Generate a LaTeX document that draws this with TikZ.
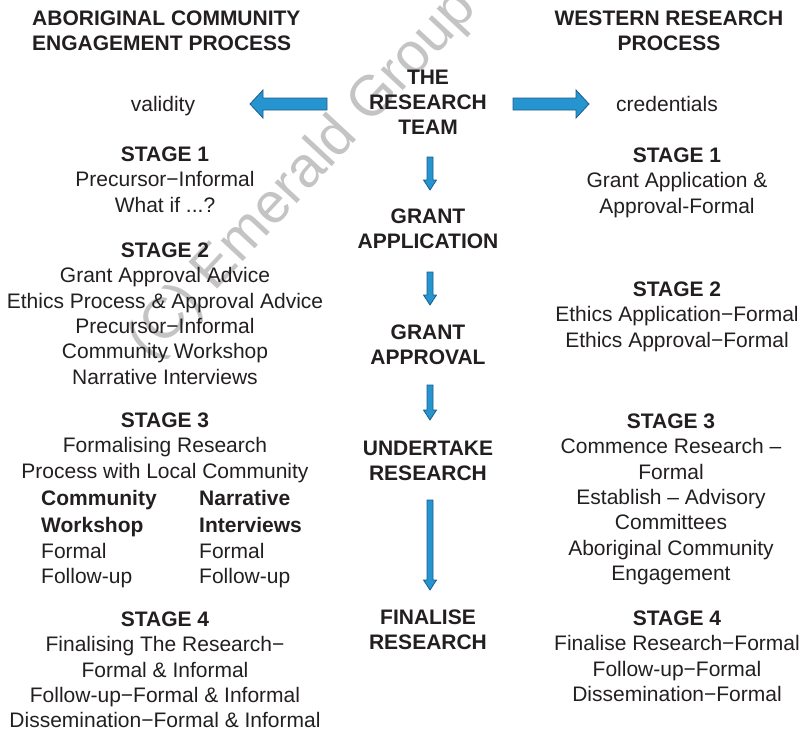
\documentclass[tikz,border=0pt]{standalone}
\usepackage{fontspec}
\setmainfont{Liberation Sans}
\usetikzlibrary{calc}
\definecolor{arrowfill}{HTML}{2694CE}
\definecolor{arrowedge}{HTML}{1B5E8C}
\definecolor{txt}{HTML}{231F20}
\definecolor{wmark}{HTML}{C4C4C4}
\newcommand\vblockarrow[2]{\draw[blockarrow] let \p1=(#1),\p2=(#2) in
  (\x1-3pt,\y1) -- (\x1+3pt,\y1) -- (\x1+3pt,\y2+10pt) -- (\x1+6.5pt,\y2+10pt) -- (\x1,\y2)
  -- (\x1-6.5pt,\y2+10pt) -- (\x1-3pt,\y2+10pt) -- cycle;}
\newcommand\hblockarrow[3]{\draw[blockarrow] let \p1=(#1),\p2=(#2),\n1={#3*13} in
  (\x1,\y1+6pt) -- (\x2-\n1 pt,\y1+6pt) -- (\x2-\n1 pt,\y1+14pt) -- (\x2,\y1)
  -- (\x2-\n1 pt,\y1-14pt) -- (\x2-\n1 pt,\y1-6pt) -- (\x1,\y1-6pt) -- cycle;}
\begin{document}
\begin{tikzpicture}[x=1pt,y=-1pt,
  every node/.style={text=txt, inner sep=0pt},
  body/.style={font=\fontsize{21}{25.4}\selectfont, align=center},
  head/.style={font=\bfseries\fontsize{21}{25.4}\selectfont, align=center},
  blockarrow/.style={fill=arrowfill, draw=arrowedge, line width=0.8pt, line join=miter},
  wm/.style={text=wmark, font=\fontsize{57}{64}\selectfont}]
\useasboundingbox (0,0) rectangle (806,732);
\begin{scope}
\clip (0,0) rectangle (806,732);
\node[wm, rotate=47, anchor=base west] (wm) at (150,362) {(C) Emerald Group};
\end{scope}

% headers
\node[head, align=left, anchor=north west, font=\bfseries\fontsize{21}{25}\selectfont] (hl) at (32,10.5) {ABORIGINAL COMMUNITY\\ENGAGEMENT PROCESS};
\node[head, anchor=north, font=\bfseries\fontsize{21}{25}\selectfont] (hr) at (669,10.5) {WESTERN RESEARCH\\PROCESS};

% centre column
\node[head, anchor=north] (team) at (428,69.5) {THE\\RESEARCH\\TEAM};
\node[head, anchor=north] (gapp) at (428,208.5) {GRANT\\APPLICATION};
\node[head, anchor=north] (gappr) at (428,324.5) {GRANT\\APPROVAL};
\node[head, anchor=north] (under) at (428,440.5) {UNDERTAKE\\RESEARCH};
\node[head, anchor=north] (fin) at (428,609.5) {FINALISE\\RESEARCH};

\node[body, anchor=base] (valid) at (163,111) {validity};
\node[body, anchor=base] (cred) at (667,111) {credentials};

% left column
\node[body, anchor=north] (l1) at (165,146.5) {{\bfseries STAGE 1}\\Precursor−Informal\\What if ...?};
\node[body, anchor=north] (l2) at (165,242.5) {{\bfseries STAGE 2}\\Grant Approval Advice\\Ethics Process \& Approval Advice\\Precursor−Informal\\Community Workshop\\Narrative Interviews};
\node[body, anchor=north] (l3) at (165,412.5) {{\bfseries STAGE 3}\\Formalising Research\\Process with Local Community};
\node[body, align=left, anchor=north west] (l3a) at (41,490.5) {{\bfseries Community}\\[1.6pt]{\bfseries Workshop}\\Formal\\Follow-up};
\node[body, align=left, anchor=north west] (l3b) at (199,490.5) {{\bfseries Narrative}\\[1.6pt]{\bfseries Interviews}\\Formal\\Follow-up};
\node[body, anchor=north] (l4) at (165,611.5) {{\bfseries STAGE 4}\\Finalising The Research−\\Formal \& Informal\\Follow-up−Formal \& Informal\\Dissemination−Formal \& Informal};

% right column
\node[body, anchor=north] (r1) at (677,147.5) {{\bfseries STAGE 1}\\Grant Application \&\\Approval-Formal};
\node[body, anchor=north] (r2) at (677,281.5) {{\bfseries STAGE 2}\\Ethics Application−Formal\\Ethics Approval−Formal};
\node[body, anchor=north] (r3) at (671,413.5) {{\bfseries STAGE 3}\\Commence Research –\\Formal\\Establish – Advisory\\Committees\\Aboriginal Community\\Engagement};
\node[body, anchor=north] (r4) at (677,610.5) {{\bfseries STAGE 4}\\Finalise Research−Formal\\Follow-up−Formal\\Dissemination−Formal};

% arrows
\coordinate (a1s) at (430,157); \coordinate (a1e) at (430,190);
\coordinate (a2s) at (430,272); \coordinate (a2e) at (430,305);
\coordinate (a3s) at (430,385); \coordinate (a3e) at (430,420);
\coordinate (a4s) at (430,500); \coordinate (a4e) at (430,590);
\coordinate (hls) at (327,104); \coordinate (hle) at (250,104);
\coordinate (hrs) at (513,104); \coordinate (hre) at (589,104);
\vblockarrow{a1s}{a1e}
\vblockarrow{a2s}{a2e}
\vblockarrow{a3s}{a3e}
\vblockarrow{a4s}{a4e}
\hblockarrow{hls}{hle}{-1}
\hblockarrow{hrs}{hre}{1}
\end{tikzpicture}
\end{document}
